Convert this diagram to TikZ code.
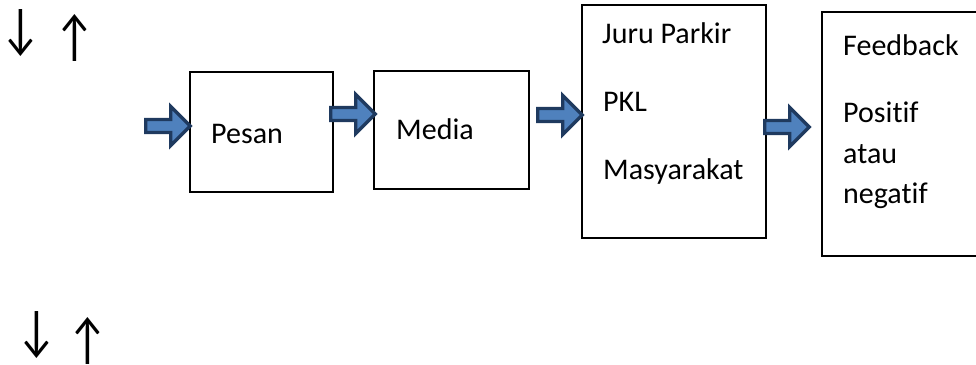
\documentclass[tikz,border=0pt]{standalone}
\usepackage{fontspec}
\setmainfont{Carlito}[Ligatures=NoCommon]
\newfontfamily\arrowfont{Carlito}
\definecolor{arrfill}{HTML}{4F81BD}
\definecolor{arrdraw}{HTML}{1F3A5F}
\begin{document}
\begin{tikzpicture}[x=1pt,y=-1pt,
  box/.style={draw=black,line width=1.2pt},
  lbl/.style={anchor=base west,inner sep=0pt,font=\fontsize{30}{36}\selectfont},
  glyph/.style={inner sep=0pt,yscale=1.25,transform shape,font=\arrowfont\fontsize{45}{54}\selectfont},
  fatarrow/.pic={\draw[draw=arrdraw,fill=arrfill,line width=3.4pt,line join=miter]
     (0,-6.5) -- (25,-6.5) -- (25,-19.5) -- (44.5,0) -- (25,19.5) -- (25,6.5) -- (0,6.5) -- cycle;}]
\useasboundingbox (0,0) rectangle (976,364);
% boxes
\draw[box] (190,72) rectangle (333,192);
\draw[box] (374,71) rectangle (529,189);
\draw[box] (582,5) rectangle (766,238);
\draw[box] (822,12) rectangle (990,256);
% texts
\node[lbl] (pesan) at (211,143) {Pesan};
\node[lbl] (media) at (396,139) {Media};
\node[lbl] (juru) at (602,43) {Juru Parkir};
\node[lbl] (pkl) at (603,111) {PKL};
\node[lbl] (masy) at (603,179) {Masyarakat};
\node[lbl] (feed) at (843,55) {Feedback};
\node[lbl] (pos) at (843,122) {Positif};
\node[lbl] (atau) at (843,163) {atau};
\node[lbl] (neg) at (843,203) {negatif};
% fat arrows
\pic at (145.7,126) {fatarrow};
\pic at (330.7,114) {fatarrow};
\pic at (537.7,115) {fatarrow};
\pic at (764.7,127) {fatarrow};
% arrow glyphs
\node[glyph] (d1) at (21,33) {↓};
\node[glyph] (u1) at (75,38) {↑};
\node[glyph] (d2) at (37,335.5) {↓};
\node[glyph] (u2) at (88,340.5) {↑};
\end{tikzpicture}
\end{document}
